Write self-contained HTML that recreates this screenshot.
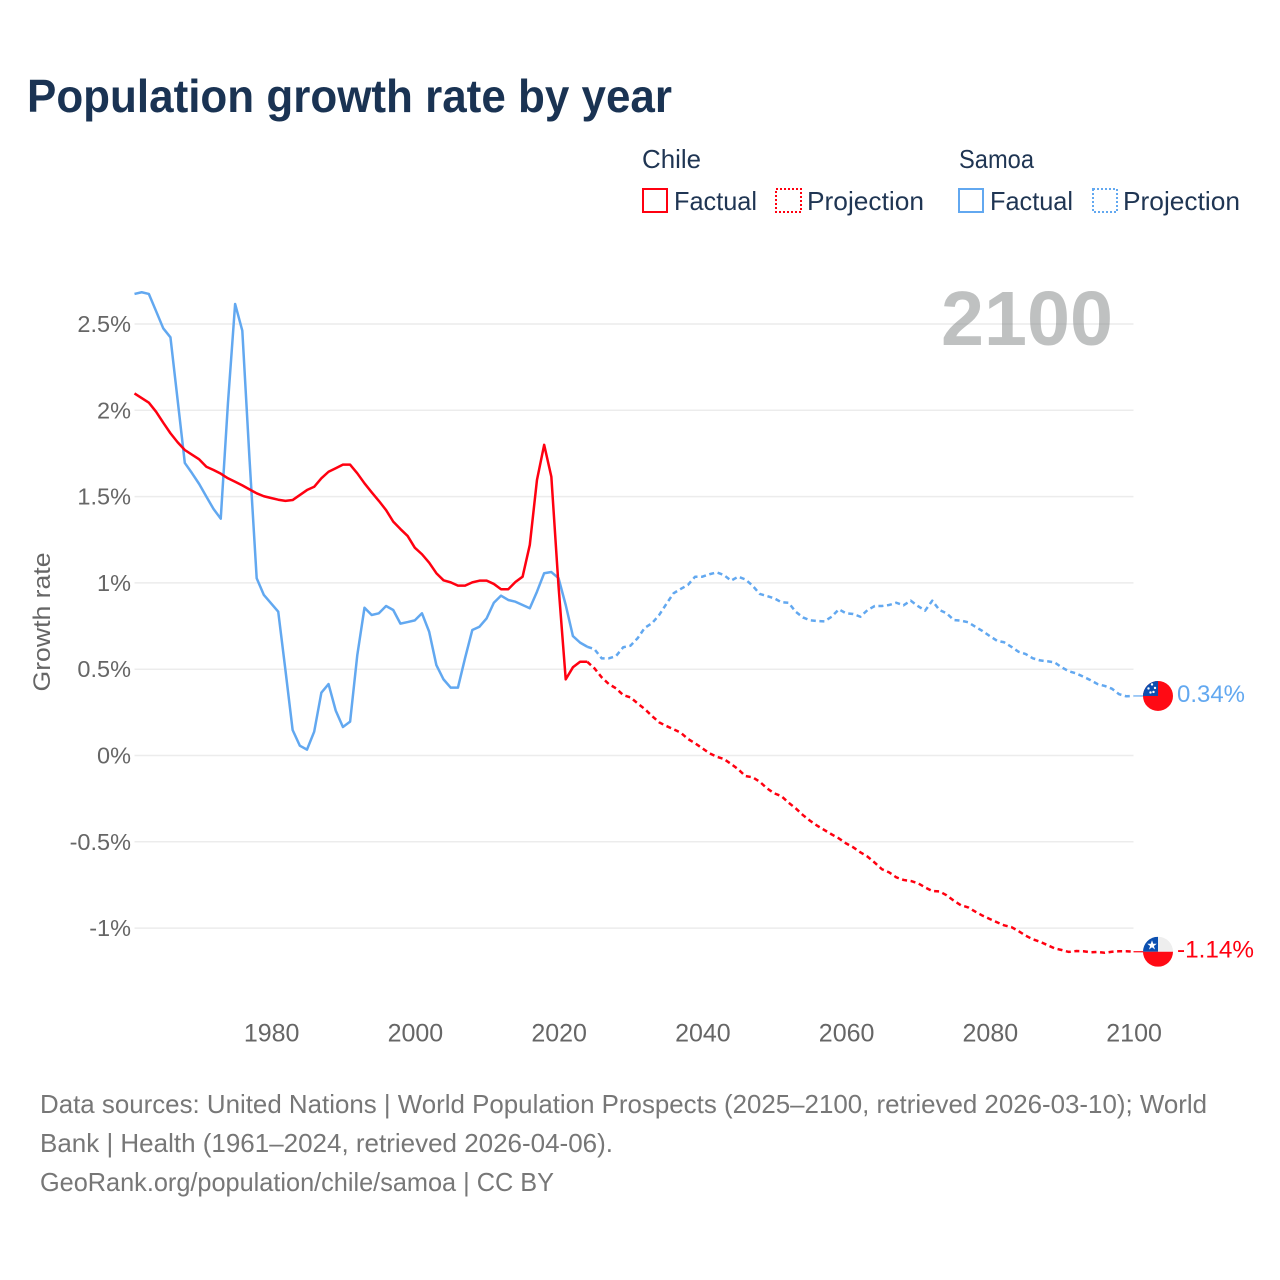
<!DOCTYPE html>
<html lang="en">
<head>
<meta charset="utf-8">
<title>Population growth rate by year</title>
<style>
  html, body { margin: 0; padding: 0; background: #ffffff; }
  svg { display: block; font-family: "Liberation Sans", sans-serif; }
</style>
</head>
<body>
<svg id="chart" xmlns="http://www.w3.org/2000/svg" width="1280" height="1280" viewBox="0 0 1280 1280">
  <defs>
    <clipPath id="chile-clip"><circle cx="1158" cy="951" r="15"></circle></clipPath>
    <clipPath id="samoa-clip"><circle cx="1158" cy="696" r="15"></circle></clipPath>
  </defs>
  <rect x="0" y="0" width="1280" height="1280" fill="#ffffff"></rect>

  <text x="27" y="112" font-size="46" font-weight="700" fill="#1a3353" textLength="645" lengthAdjust="spacingAndGlyphs">Population growth rate by year</text>

  <g font-size="26" fill="#1f3553">
    <text x="642" y="168" textLength="59" lengthAdjust="spacingAndGlyphs">Chile</text>
    <rect x="643" y="189" width="24" height="23" fill="none" stroke="#ff0010" stroke-width="2"></rect>
    <text x="674" y="210" textLength="83" lengthAdjust="spacingAndGlyphs">Factual</text>
    <rect x="776" y="189" width="25" height="23" fill="none" stroke="#ff0010" stroke-width="2" stroke-dasharray="2 2"></rect>
    <text x="807" y="210" textLength="117" lengthAdjust="spacingAndGlyphs">Projection</text>
    <text x="959" y="168" textLength="75" lengthAdjust="spacingAndGlyphs">Samoa</text>
    <rect x="959" y="189" width="24" height="23" fill="none" stroke="#62a8f0" stroke-width="2"></rect>
    <text x="990" y="210" textLength="83" lengthAdjust="spacingAndGlyphs">Factual</text>
    <rect x="1093" y="189" width="24" height="23" fill="none" stroke="#62a8f0" stroke-width="2" stroke-dasharray="2 2"></rect>
    <text x="1123" y="210" textLength="117" lengthAdjust="spacingAndGlyphs">Projection</text>
  </g>

  <g id="grid-layer"></g>
  <g id="y-tick-layer" font-size="23.5" fill="#666666" text-anchor="end"></g>
  <g id="x-tick-layer" font-size="25" fill="#666666" text-anchor="middle"></g>

  <text transform="translate(50,622) rotate(-90)" text-anchor="middle" font-size="24" fill="#666666" textLength="139" lengthAdjust="spacingAndGlyphs">Growth rate</text>

  <text x="941" y="345" font-size="77" font-weight="700" fill="#808484" fill-opacity="0.5" textLength="172" lengthAdjust="spacingAndGlyphs">2100</text>

  <g id="series-layer"></g>

  <g id="chile-marker">
    <g clip-path="url(#chile-clip)">
      <rect x="1143" y="936" width="30" height="15" fill="#eeeeee"></rect>
      <rect x="1143" y="936" width="15" height="15" fill="#0b4fb0"></rect>
      <rect x="1143" y="951" width="30" height="15" fill="#ff0a14"></rect>
      <polygon points="1152,939.5 1153.2,943 1156.8,943 1153.9,945.2 1155,948.7 1152,946.5 1149,948.7 1150.1,945.2 1147.2,943 1150.8,943" fill="#ffffff"></polygon>
    </g>
  </g>
  <g id="samoa-marker">
    <g clip-path="url(#samoa-clip)">
      <rect x="1143" y="681" width="30" height="30" fill="#ff0a14"></rect>
      <rect x="1143" y="681" width="15" height="15" fill="#0b4fb0"></rect>
      <g fill="#ffffff">
        <circle cx="1152" cy="684.5" r="1.2"></circle>
        <circle cx="1155" cy="688" r="1.2"></circle>
        <circle cx="1148.5" cy="688.5" r="1.2"></circle>
        <circle cx="1153.5" cy="692" r="1.2"></circle>
        <circle cx="1150.5" cy="692.5" r="1.2"></circle>
      </g>
    </g>
  </g>

  <text id="samoa-end-label" x="1177" y="702" font-size="24" fill="#62a8f0" textLength="68" lengthAdjust="spacingAndGlyphs">0.34%</text>
  <text id="chile-end-label" x="1177" y="957" font-size="24" fill="#ff0010" textLength="77" lengthAdjust="spacingAndGlyphs">-1.14%</text>

  <g font-size="26" fill="#777777">
    <text x="40" y="1113" textLength="1167" lengthAdjust="spacingAndGlyphs">Data sources: United Nations | World Population Prospects (2025–2100, retrieved 2026-03-10); World</text>
    <text x="40" y="1152" textLength="573" lengthAdjust="spacingAndGlyphs">Bank | Health (1961–2024, retrieved 2026-04-06).</text>
    <text x="40" y="1191" textLength="514" lengthAdjust="spacingAndGlyphs">GeoRank.org/population/chile/samoa | CC BY</text>
  </g>
</svg>

<script>
const factualStartYear = 1961;
const projectionStartYear = 2024;

const chileFactual = [2.098,2.071,2.044,1.992,1.928,1.867,1.815,1.77,1.743,1.716,1.673,1.654,1.633,1.606,1.586,1.565,1.542,1.519,1.502,1.492,1.482,1.475,1.48,1.509,1.538,1.557,1.606,1.644,1.664,1.685,1.685,1.635,1.577,1.525,1.475,1.422,1.355,1.312,1.272,1.204,1.166,1.117,1.056,1.015,1.003,0.984,0.984,1.003,1.013,1.013,0.994,0.963,0.963,1.005,1.036,1.22,1.596,1.8,1.615,0.98,0.441,0.511,0.543,0.543];
const chileProjection = [0.543,0.505,0.453,0.414,0.389,0.35,0.337,0.302,0.269,0.229,0.192,0.171,0.152,0.132,0.096,0.071,0.042,0.013,-0.007,-0.02,-0.049,-0.08,-0.119,-0.126,-0.152,-0.19,-0.219,-0.235,-0.273,-0.306,-0.345,-0.378,-0.407,-0.432,-0.457,-0.48,-0.509,-0.532,-0.561,-0.586,-0.621,-0.659,-0.677,-0.706,-0.721,-0.727,-0.74,-0.764,-0.785,-0.787,-0.81,-0.841,-0.868,-0.88,-0.905,-0.928,-0.947,-0.966,-0.984,-0.994,-1.017,-1.044,-1.065,-1.079,-1.098,-1.117,-1.127,-1.138,-1.133,-1.134,-1.14,-1.138,-1.143,-1.137,-1.134,-1.134,-1.137];

const samoaFactual = [2.674,2.684,2.674,2.575,2.475,2.423,2.06,1.695,1.636,1.573,1.5,1.428,1.372,2.04,2.616,2.461,1.72,1.027,0.93,0.882,0.833,0.495,0.148,0.057,0.034,0.138,0.364,0.414,0.26,0.165,0.196,0.582,0.856,0.814,0.824,0.866,0.843,0.764,0.773,0.783,0.824,0.717,0.524,0.441,0.393,0.393,0.565,0.727,0.746,0.795,0.885,0.926,0.901,0.891,0.872,0.853,0.949,1.056,1.063,1.027,0.872,0.692,0.654,0.63];
const samoaProjection = [0.63,0.616,0.563,0.563,0.576,0.627,0.636,0.679,0.74,0.766,0.814,0.878,0.94,0.965,0.988,1.036,1.036,1.05,1.061,1.046,1.013,1.036,1.02,0.984,0.936,0.924,0.911,0.888,0.885,0.833,0.8,0.783,0.779,0.777,0.804,0.847,0.824,0.82,0.804,0.843,0.866,0.866,0.872,0.885,0.87,0.897,0.866,0.839,0.897,0.843,0.824,0.785,0.781,0.772,0.746,0.721,0.692,0.665,0.656,0.63,0.601,0.588,0.563,0.551,0.546,0.54,0.511,0.488,0.476,0.457,0.437,0.414,0.403,0.387,0.355,0.343,0.345];

const yTickValues = [-1,-0.5,0,0.5,1,1.5,2,2.5];
const yTickLabels = ["-1%","-0.5%","0%","0.5%","1%","1.5%","2%","2.5%"];
const xTickValues = [1980,2000,2020,2040,2060,2080,2100];
const xTickLabels = ["1980","2000","2020","2040","2060","2080","2100"];

const SVG_NS = "http://www.w3.org/2000/svg";
const plotLeft = 134.5, plotRight = 1133.5, yearMin = 1961, yearMax = 2100;
const zeroY = 755.5, pxPerUnit = 172.6;

function xScale(year) {
  return plotLeft + (year - yearMin) * (plotRight - plotLeft) / (yearMax - yearMin);
}
function yScale(value) {
  return zeroY - value * pxPerUnit;
}
function make(tag, attrs, parent) {
  const el = document.createElementNS(SVG_NS, tag);
  Object.keys(attrs).forEach(function (k) { el.setAttribute(k, attrs[k]); });
  parent.appendChild(el);
  return el;
}
function linePath(values, startYear) {
  return values.map(function (v, i) {
    return (i ? "L" : "M") + xScale(startYear + i).toFixed(2) + " " + yScale(v).toFixed(2);
  }).join(" ");
}

const gridLayer = document.getElementById("grid-layer");
const yTickLayer = document.getElementById("y-tick-layer");
const xTickLayer = document.getElementById("x-tick-layer");
const seriesLayer = document.getElementById("series-layer");

yTickValues.forEach(function (v, i) {
  const line = make("line", { x1: plotLeft, x2: plotRight, y1: yScale(v), y2: yScale(v), stroke: "#ececec", "stroke-width": 1.5 }, gridLayer);
  
  
  const label = make("text", { x: 131, y: yScale(v) + 8 }, yTickLayer);
  
  
  label.textContent = yTickLabels[i];
});

xTickValues.forEach(function (year, i) {
  const label = make("text", { x: xScale(year) + 0.6, y: 1041.5 }, xTickLayer);
  
  
  label.textContent = xTickLabels[i];
});

const chileColor = "#ff0010";
const samoaColor = "#62a8f0";
const lineWidth = 2.5;
const dashPattern = "5 3.6";

const samoaFactualLine = make("path", { d: linePath(samoaFactual, factualStartYear), fill: "none", stroke: samoaColor, "stroke-width": lineWidth, "stroke-linejoin": "round" }, seriesLayer);



const samoaProjectionLine = make("path", { d: linePath(samoaProjection, projectionStartYear), fill: "none", stroke: samoaColor, "stroke-width": lineWidth, "stroke-dasharray": dashPattern, "stroke-linejoin": "round" }, seriesLayer);



const chileFactualLine = make("path", { d: linePath(chileFactual, factualStartYear), fill: "none", stroke: chileColor, "stroke-width": lineWidth, "stroke-linejoin": "round" }, seriesLayer);



const chileProjectionLine = make("path", { d: linePath(chileProjection, projectionStartYear), fill: "none", stroke: chileColor, "stroke-width": lineWidth, "stroke-dasharray": dashPattern, "stroke-linejoin": "round" }, seriesLayer);



const samoaEndY = yScale(samoaProjection[samoaProjection.length - 1]);
const chileEndY = yScale(chileProjection[chileProjection.length - 1]);

const samoaConnector = make("line", { x1: plotRight, x2: plotRight + 10, y1: samoaEndY, y2: samoaEndY, stroke: samoaColor, "stroke-width": 1.2 }, seriesLayer);



const chileConnector = make("line", { x1: plotRight, x2: plotRight + 10, y1: chileEndY, y2: chileEndY, stroke: chileColor, "stroke-width": 1.2 }, seriesLayer);



// Markers and their labels follow the last projected value.
document.getElementById("chile-marker").setAttribute("transform", "translate(0," + (chileEndY - 951) + ")");
document.getElementById("samoa-marker").setAttribute("transform", "translate(0," + (samoaEndY - 696) + ")");
document.getElementById("chile-end-label").setAttribute("y", chileEndY + 6);
document.getElementById("samoa-end-label").setAttribute("y", samoaEndY + 6);
</script>
</body>
</html>
